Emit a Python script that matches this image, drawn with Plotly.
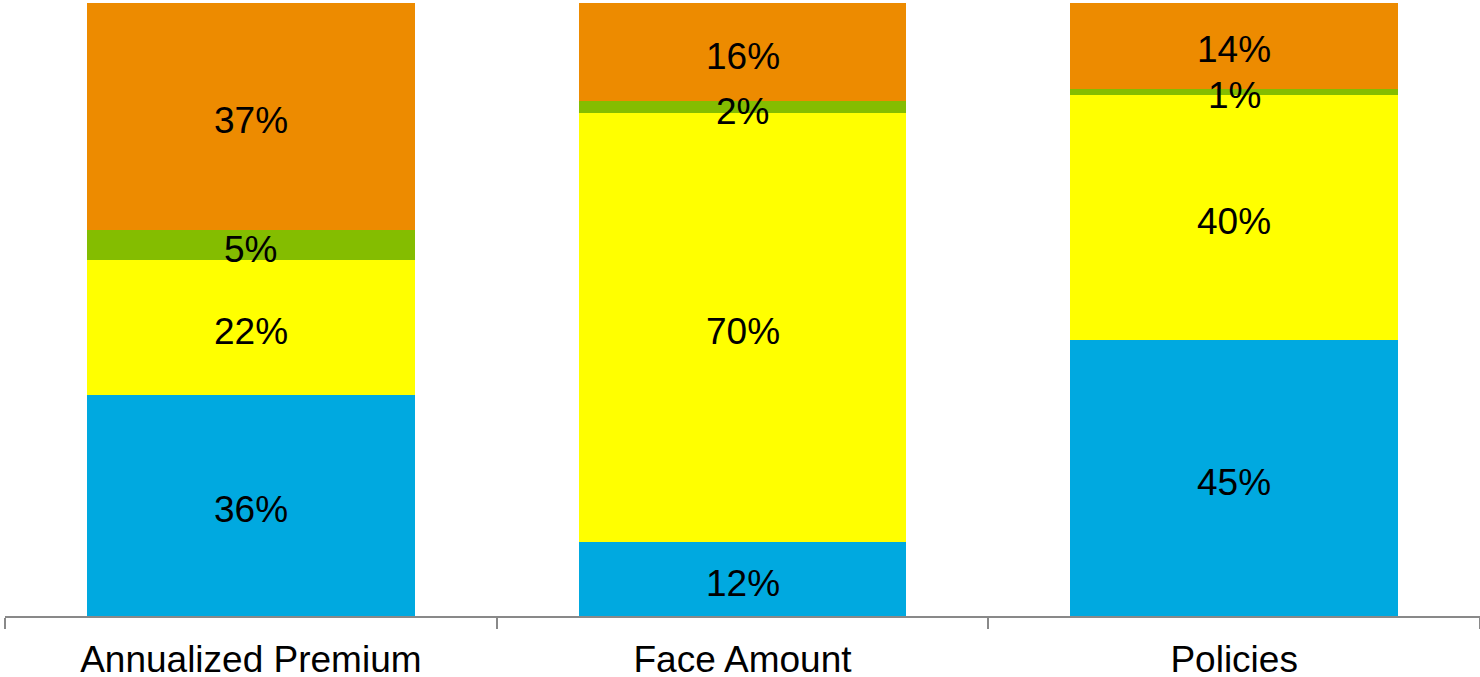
import plotly.graph_objects as go
import numpy as np

categories = ["Annualized Premium", "Face Amount", "Policies"]
series_names = ["Blue", "Yellow", "Green", "Orange"]
blue_vals = [36, 12, 45]
yellow_vals = [22, 70, 40]
green_vals = [5, 2, 1]
orange_vals = [37, 16, 14]
colors = ["#00A9E0", "#FFFF00", "#84BD00", "#ED8B00"]

FONT = "Liberation Sans, Arial, sans-serif"
all_vals = [blue_vals, yellow_vals, green_vals, orange_vals]

fig = go.Figure()
for name, vals, col in zip(series_names, all_vals, colors):
    fig.add_trace(go.Bar(
        x=categories, y=vals, name=name,
        marker=dict(color=col, line=dict(width=0)),
        hoverinfo="skip",
    ))

# segment labels drawn on top, centered in each stacked segment
arr = np.array(all_vals, dtype=float)
tops = np.cumsum(arr, axis=0)
mids = tops - arr / 2
for i in range(arr.shape[0]):
    for j, c in enumerate(categories):
        fig.add_annotation(
            x=c, y=mids[i, j], text=f"{all_vals[i][j]}%",
            showarrow=False, xanchor="center", yanchor="middle", yshift=-4,
            font=dict(family=FONT, size=37, color="black"),
        )

fig.update_layout(
    barmode="stack", bargap=0.333,
    width=1480, height=677,
    margin=dict(l=5, r=0, t=3, b=61),
    paper_bgcolor="white", plot_bgcolor="white",
    showlegend=False,
    font=dict(family=FONT, size=36, color="black"),
)
fig.update_xaxes(
    showline=True, linecolor="#898989", linewidth=2,
    ticks="outside", tickson="boundaries", ticklen=11, tickcolor="#898989", tickwidth=2,
    tickfont=dict(size=37, color="black"), ticklabelstandoff=10,
    showgrid=False, automargin=False,
)
fig.update_yaxes(visible=False, range=[0, 100], showgrid=False)

fig.write_html("out.html", config={"displayModeBar": False},
               post_script="document.body.style.margin='0';document.body.style.padding='0';")
